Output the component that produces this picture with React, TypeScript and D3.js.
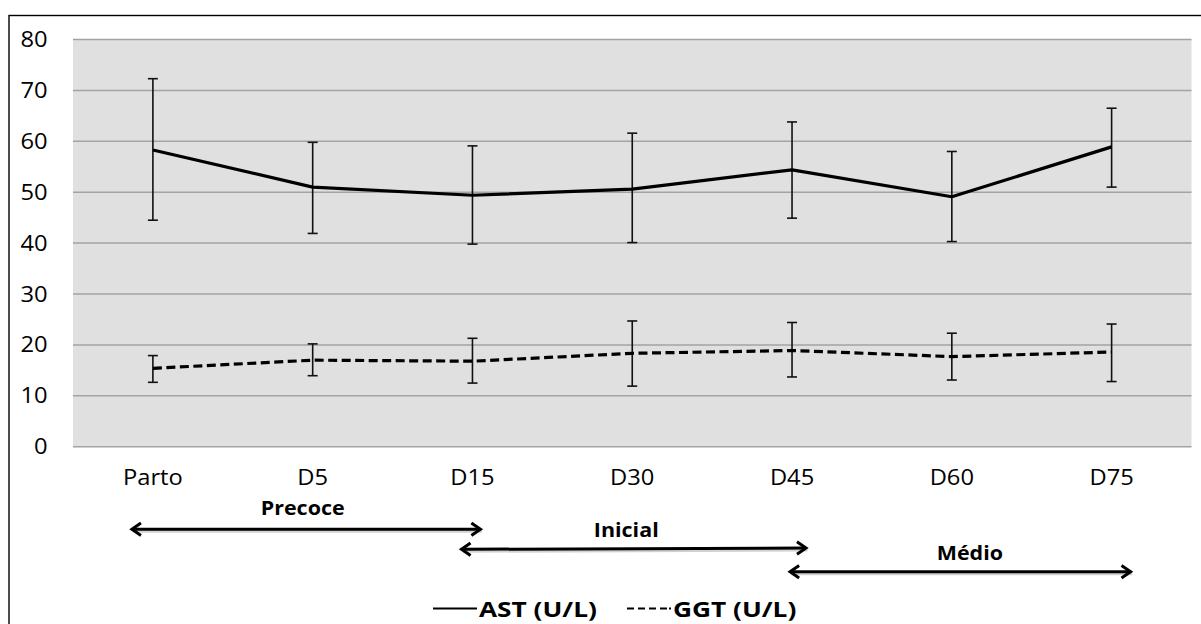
import React from "react";
import * as d3 from "d3";

// ---- data ----
const categories = ["Parto", "D5", "D15", "D30", "D45", "D60", "D75"];
const astMean = [58.3, 51.0, 49.4, 50.6, 54.4, 49.1, 58.9];
const astUpper = [72.3, 59.8, 59.1, 61.6, 63.8, 58.0, 66.5];
const astLower = [44.5, 41.9, 39.8, 40.1, 44.9, 40.3, 51.0];
const ggtMean = [15.4, 17.0, 16.8, 18.35, 18.9, 17.7, 18.6];
const ggtUpper = [17.9, 20.2, 21.3, 24.7, 24.4, 22.3, 24.1];
const ggtLower = [12.65, 13.95, 12.5, 11.9, 13.7, 13.1, 12.8];
const yTicks = [0, 10, 20, 30, 40, 50, 60, 70, 80];
const phaseLabels = ["Precoce", "Inicial", "Médio"];
const phaseFrom = ["Parto", "D15", "D45"];
const phaseTo = ["D15", "D45", "D75"];
const legendLabels = ["AST (U/L)", "GGT (U/L)"];

// ---- layout ----
const W = 1201;
const H = 624;
const plot = { left: 73, right: 1191.5, top: 39.5, bottom: 446.7 };
const FONT = "'Open Sans', 'Liberation Sans', sans-serif";
const SX = 1.13; // horizontal stretch of text
// arrow layout: offsets of arrow ends from category centres, arrow y, label x offset / baseline
const phaseLayout = [
  { startOff: -21, endOff: 8, yL: 529.3, yR: 529.3, labelDx: -10, labelY: 514.5 },
  { startOff: -11, endOff: 14, yL: 549.3, yR: 548.0, labelDx: -6, labelY: 537 },
  { startOff: -2, endOff: 19, yL: 571.7, yR: 571.7, labelDx: 18, labelY: 560 },
];

function SText(props: {
  x: number; y: number; text: string; size: number; bold?: boolean;
  anchor?: "start" | "middle" | "end"; sx?: number;
}) {
  const { x, y, text, size, bold, anchor = "start", sx = SX } = props;
  return (
    <text
      transform={`translate(${x},${y}) scale(${sx},1)`}
      textAnchor={anchor}
      fontFamily={FONT}
      fontSize={size}
      fontWeight={bold ? 700 : 400}
      fill="#000"
    >
      {text}
    </text>
  );
}

function Arrow(props: { x1: number; y1: number; x2: number; y2: number }) {
  const { x1, y1, x2, y2 } = props;
  const ang = Math.atan2(y2 - y1, x2 - x1);
  const len = 11;
  const spread = 0.6;
  const head = (x: number, y: number, a: number) => {
    const p1 = [x - len * Math.cos(a - spread), y - len * Math.sin(a - spread)];
    const p2 = [x - len * Math.cos(a + spread), y - len * Math.sin(a + spread)];
    return `M${p1[0]},${p1[1]} L${x},${y} L${p2[0]},${p2[1]}`;
  };
  const s = { stroke: "#000", strokeWidth: 3, fill: "none", strokeLinejoin: "miter" as const };
  return (
    <g>
      <g transform="translate(1.5,2)" opacity={0.18}>
        <line x1={x1} y1={y1} x2={x2} y2={y2} {...s} />
      </g>
      <line x1={x1 + 1} y1={y1} x2={x2 - 1} y2={y2} {...s} />
      <path d={head(x2, y2, ang)} {...s} />
      <path d={head(x1, y1, ang + Math.PI)} {...s} />
    </g>
  );
}

export default function App() {
  const x = d3.scaleBand<string>().domain(categories).range([plot.left, plot.right]);
  const cx = (c: string) => (x(c) as number) + x.bandwidth() / 2;
  const y = d3.scaleLinear().domain([0, 80]).range([plot.bottom, plot.top]);

  const line = d3
    .line<number>()
    .x((_, i) => cx(categories[i]))
    .y((d) => y(d));

  const capW = 5;
  const errorBars = (upper: number[], lower: number[], key: string) =>
    categories.map((c, i) => {
      const xx = cx(c);
      return (
        <g key={key + i} stroke="#111" strokeWidth={1.6}>
          <line x1={xx} x2={xx} y1={y(upper[i])} y2={y(lower[i])} />
          <line x1={xx - capW} x2={xx + capW} y1={y(upper[i])} y2={y(upper[i])} />
          <line x1={xx - capW} x2={xx + capW} y1={y(lower[i])} y2={y(lower[i])} />
        </g>
      );
    });

  return (
    <svg
      width={W}
      height={H}
      style={{ position: "absolute", left: 0, top: 0, background: "#fff" }}
    >
      {/* outer frame */}
      <rect x={9} y={15.5} width={W + 10} height={H + 10} fill="#fff" stroke="#000" strokeWidth={1.4} />

      {/* plot background */}
      <rect
        x={plot.left}
        y={plot.top}
        width={plot.right - plot.left}
        height={plot.bottom - plot.top}
        fill="#e0e0e0"
      />
      {yTicks.map((t) => (
        <line
          key={"g" + t}
          x1={plot.left}
          x2={plot.right}
          y1={y(t)}
          y2={y(t)}
          stroke="#a3a3a3"
          strokeWidth={1.5}
        />
      ))}

      {/* y tick labels */}
      {yTicks.map((t) => (
        <SText key={"yt" + t} x={47.5} y={y(t) + 7.5} text={String(t)} size={21} anchor="end" />
      ))}

      {/* category labels */}
      {categories.map((c) => (
        <SText key={"c" + c} x={cx(c)} y={485} text={c} size={21} anchor="middle" />
      ))}

      {/* series */}
      {errorBars(astUpper, astLower, "a")}
      {errorBars(ggtUpper, ggtLower, "g")}
      <path d={line(astMean) || ""} fill="none" stroke="#000" strokeWidth={3.2} strokeLinejoin="round" />
      <path
        d={line(ggtMean) || ""}
        fill="none"
        stroke="#000"
        strokeWidth={3.2}
        strokeDasharray="9,4.5"
      />

      {/* phases */}
      {phaseLabels.map((p, i) => {
        const L = phaseLayout[i];
        const a = cx(phaseFrom[i]) + L.startOff;
        const b = cx(phaseTo[i]) + L.endOff;
        const mid = (cx(phaseFrom[i]) + cx(phaseTo[i])) / 2 + L.labelDx;
        return (
          <g key={"ph" + p}>
            <SText x={mid} y={L.labelY} text={p} size={19} bold anchor="middle" sx={1.13} />
            <Arrow x1={a} y1={L.yL} x2={b} y2={L.yR} />
          </g>
        );
      })}

      {/* legend */}
      <line x1={433} x2={477} y1={608.5} y2={608.5} stroke="#000" strokeWidth={2.2} />
      <SText x={479} y={617} text={legendLabels[0]} size={21} bold sx={1.25} />
      <line x1={627} x2={668} y1={608.5} y2={608.5} stroke="#000" strokeWidth={2.2} strokeDasharray="7,4" />
      <line x1={669} x2={671} y1={608.5} y2={608.5} stroke="#000" strokeWidth={2.2} />
      <SText x={673} y={617} text={legendLabels[1]} size={21} bold sx={1.25} />
    </svg>
  );
}
